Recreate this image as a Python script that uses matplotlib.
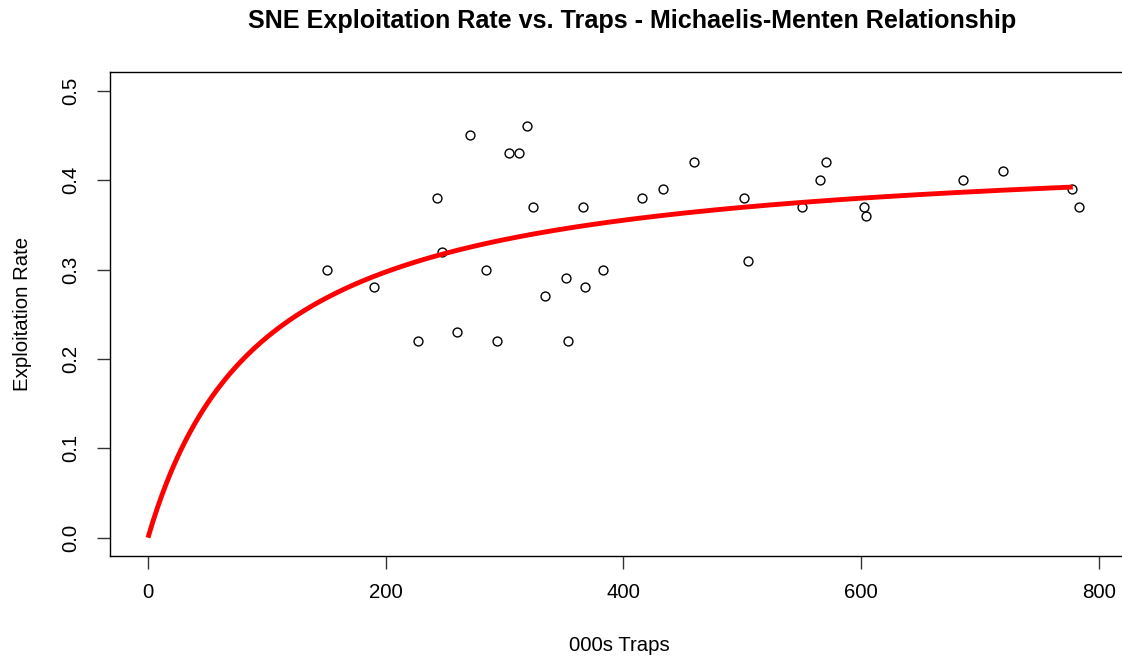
import numpy as np
import matplotlib
matplotlib.use("Agg")
import matplotlib.pyplot as plt

# ---- data ----
traps = [151, 190, 227, 243, 247, 260, 271, 284, 294, 304, 312, 319, 324,
         334, 352, 353, 366, 368, 383, 416, 433, 459, 501, 505, 550, 565,
         570, 602, 604, 686, 719, 777, 783]
exploitation = [0.30, 0.28, 0.22, 0.38, 0.32, 0.23, 0.45, 0.30, 0.22, 0.43,
                0.43, 0.46, 0.37, 0.27, 0.29, 0.22, 0.37, 0.28, 0.30, 0.38,
                0.39, 0.42, 0.38, 0.31, 0.37, 0.40, 0.42, 0.37, 0.36, 0.40,
                0.41, 0.39, 0.37]

# fitted Michaelis-Menten parameters
vmax = 0.441
km = 96.7
curve_start, curve_end = 0, 778

x_ticks = [0, 200, 400, 600, 800]
y_ticks = [0.0, 0.1, 0.2, 0.3, 0.4, 0.5]
y_tick_labels = ["0.0", "0.1", "0.2", "0.3", "0.4", "0.5"]

title = "SNE Exploitation Rate vs. Traps - Michaelis-Menten Relationship"
xlabel = "000s Traps"
ylabel = "Exploitation Rate"

plt.rcParams['font.family'] = ['Liberation Sans', 'DejaVu Sans']

W, H = 1122, 660
fig = plt.figure(figsize=(W / 100, H / 100), dpi=100)
left, right, top, bottom = 110.3, 1130, 72.3, 556.3
ax = fig.add_axes([left / W, 1 - bottom / H, (right - left) / W, (bottom - top) / H])

curve_x = np.linspace(curve_start, curve_end, 400)
curve_y = vmax * curve_x / (km + curve_x)

ax.plot(traps, exploitation, linestyle='none', marker='o', markersize=6.4,
        markerfacecolor='none', markeredgecolor='black', markeredgewidth=1.0)
ax.plot(curve_x, curve_y, color='red', linewidth=3.5, solid_capstyle='butt')

ax.set_xlim(-31.7, 826.1)
ax.set_ylim(-0.0208, 0.5206)
ax.set_xticks(x_ticks)
ax.set_xticklabels([str(v) for v in x_ticks])
ax.set_yticks(y_ticks)
ax.set_yticklabels(y_tick_labels, rotation=90, va='center')

for sp in ax.spines.values():
    sp.set_linewidth(1.0)
    sp.set_color('black')

ax.tick_params(axis='both', direction='out', length=9.3, width=1.0,
               color='#333333', labelsize=14.7, labelcolor='black')
ax.tick_params(axis='x', pad=10)
ax.tick_params(axis='y', pad=12)

fig.text(632 / W, 1 - 21 / H, title, ha='center', va='center',
         fontsize=18.1, fontweight='bold')
fig.text(619 / W, 1 - 645.5 / H, xlabel, ha='center', va='center', fontsize=14.7)
fig.text(22.5 / W, 1 - 314 / H, ylabel, ha='center', va='center',
         rotation=90, fontsize=14.7)

fig.savefig("out.png", dpi=100)
